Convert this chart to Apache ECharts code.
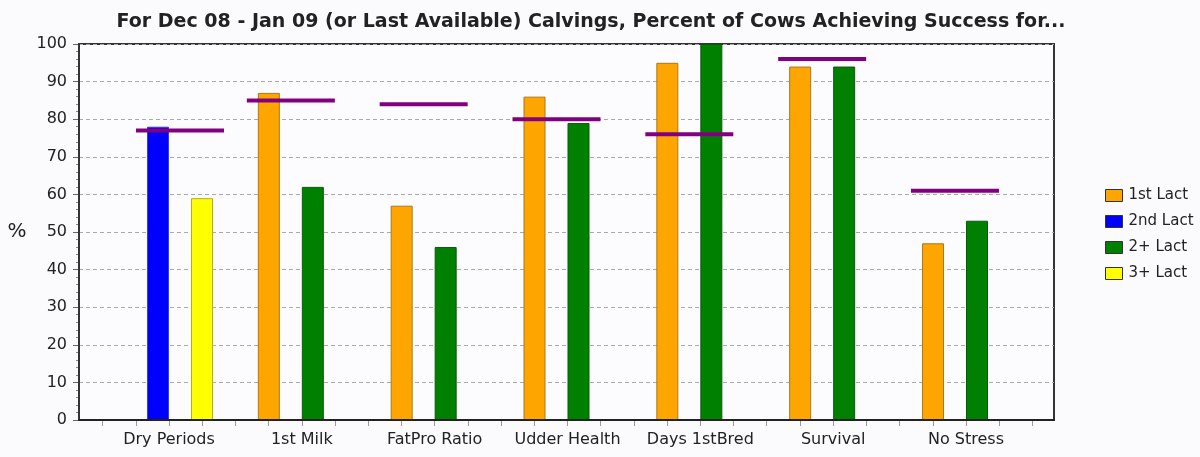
<!DOCTYPE html>
<html>
<head>
<meta charset="utf-8">
<script src="https://cdn.jsdelivr.net/npm/echarts@6/dist/echarts.min.js"></script>
<style>
  html, body { margin: 0; padding: 0; background: #fbfbfd; }
  #chart { width: 1200px; height: 457px; }
</style>
</head>
<body>
<div id="chart"></div>
<script>
// Categories and per-lactation success percentages (null = not reported)
const categories = ['Dry Periods', '1st Milk', 'FatPro Ratio', 'Udder Health', 'Days 1stBred', 'Survival', 'No Stress'];
const lact1 = [null, 87, 57, 86, 95, 94, 47];
const lact2 = [78, null, null, null, null, null, null];
const lact2plus = [null, 62, 46, 79, 100, 94, 53];
const lact3plus = [59, null, null, null, null, null, null];
const goals = [77, 85, 84, 80, 76, 96, 61];
const seriesNames = ['1st Lact', '2nd Lact', '2+ Lact', '3+ Lact'];
const yTicks = [0, 10, 20, 30, 40, 50, 60, 70, 80, 90, 100];

const seriesData = [lact1, lact2, lact2plus, lact3plus];
const fills = ['#FFA500', '#0000FF', '#008000', '#FFFF00'];
const edges = ['#a9791c', '#3b3bd6', '#0a5a0a', '#b5ad1a'];
const BAR_W = 22;
const FONT = 'DejaVu Sans';

const chart = echarts.init(document.getElementById('chart'), null, { renderer: 'canvas' });

const bars = seriesNames.map((name, k) => ({
  name: name,
  type: 'bar',
  xAxisIndex: 1,
  yAxisIndex: 1,
  data: seriesData[k],
  barWidth: BAR_W,
  barGap: '0%',
  itemStyle: { color: fills[k], borderColor: edges[k], borderWidth: 1 },
  emphasis: { disabled: true },
  z: 2
}));

// Goal marker: spans the bars actually drawn in each category, plus one slot on either side
const goalSeries = {
  name: 'Goal',
  type: 'custom',
  xAxisIndex: 1,
  yAxisIndex: 1,
  data: goals.map((g, i) => [i, g]),
  z: 5,
  silent: true,
  renderItem: function (params, api) {
    const i = api.value(0);
    const pt = api.coord([i, api.value(1)]);
    const present = [];
    seriesData.forEach((arr, k) => { if (arr[i] != null) present.push(k); });
    const n = seriesData.length;
    const first = present[0], last = present[present.length - 1];
    const x0 = pt[0] + (first - (n - 1) / 2) * BAR_W - BAR_W;
    const x1 = pt[0] + (last - (n - 1) / 2) * BAR_W + BAR_W;
    return {
      type: 'line',
      shape: { x1: x0, y1: pt[1], x2: x1, y2: pt[1] },
      style: { stroke: '#800080', lineWidth: 4 }
    };
  }
};

// Frame edges drawn as axis lines so they sit above the dashed grid lines
const frameEdge = (color) => ({
  show: true,
  axisLine: { show: true, lineStyle: { color: color, width: 2 } },
  axisTick: { show: false }, axisLabel: { show: false }, splitLine: { show: false }
});

const option = {
  backgroundColor: '#fbfbfd',
  animation: false,
  title: {
    text: 'For Dec 08 - Jan 09 (or Last Available) Calvings, Percent of Cows Achieving Success for...',
    left: 586,
    textAlign: 'center',
    top: 8,
    textStyle: { fontFamily: FONT, fontSize: 19, fontWeight: 'bold', color: '#222' }
  },
  legend: {
    orient: 'vertical',
    left: 1100,
    top: 183,
    itemWidth: 17,
    itemHeight: 12,
    itemGap: 11,
    icon: 'rect',
    data: seriesNames,
    itemStyle: { borderColor: '#333', borderWidth: 1 },
    textStyle: { fontFamily: FONT, fontSize: 15, color: '#222', padding: [0, 0, 0, 1] },
    selectedMode: false
  },
  grid: [
    { left: 79, right: 146, top: 44, bottom: 37, show: true, backgroundColor: '#fcfcff', borderColor: '#333', borderWidth: 2 },
    { left: 102.6, right: 167.6, top: 44, bottom: 37 }
  ],
  xAxis: [
    Object.assign({ gridIndex: 0, type: 'value', min: 0, max: 1, position: 'bottom', z: 4 }, frameEdge('#444')),
    {
      gridIndex: 1, type: 'category', data: categories, position: 'bottom',
      axisLine: { show: false }, axisTick: { show: false },
      axisLabel: { interval: 0, fontFamily: FONT, fontSize: 16, color: '#222', margin: 12 }
    },
    {
      gridIndex: 1, type: 'value', min: -0.5, max: 6.5, interval: 0.25, position: 'bottom',
      axisLine: { show: false },
      axisTick: { show: true, length: 6, lineStyle: { color: '#999', width: 1 } },
      axisLabel: { show: false }, splitLine: { show: false }
    },
    Object.assign({ gridIndex: 0, type: 'value', min: 0, max: 1, position: 'top', z: 4 }, frameEdge('#222'))
  ],
  yAxis: [
    {
      gridIndex: 0, type: 'value', min: yTicks[0], max: yTicks[yTicks.length - 1], interval: yTicks[1] - yTicks[0],
      name: '%', nameLocation: 'middle', nameRotate: 0, nameGap: 62,
      nameTextStyle: { fontFamily: FONT, fontSize: 20, color: '#222', align: 'center' },
      axisLine: { show: true, lineStyle: { color: '#555', width: 2 } },
      axisTick: { show: true, length: 6, lineStyle: { color: '#666' } },
      minorTick: { show: true, splitNumber: 5, length: 3, lineStyle: { color: '#888' } },
      axisLabel: { fontFamily: FONT, fontSize: 16, color: '#222', margin: 12 },
      splitLine: { show: true, lineStyle: { color: '#aaa', type: [4, 3], width: 1 } },
      z: 1
    },
    { gridIndex: 1, type: 'value', min: 0, max: 100, show: false },
    Object.assign({ gridIndex: 0, type: 'value', min: 0, max: 100, position: 'right', z: 4 }, frameEdge('#333'))
  ],
  series: bars.concat([goalSeries])
};

chart.setOption(option);
</script>
</body>
</html>
